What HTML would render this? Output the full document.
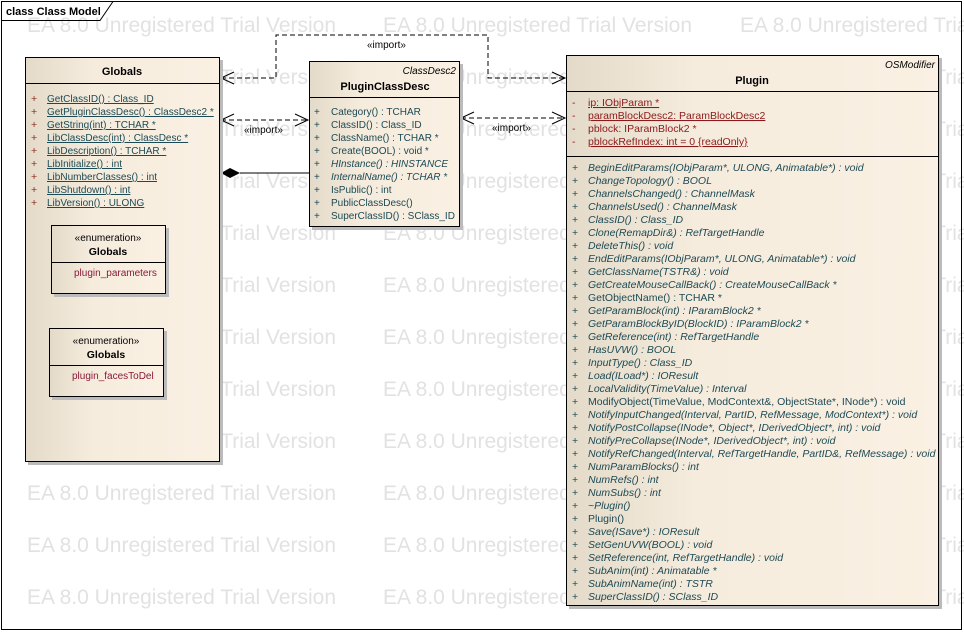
<!DOCTYPE html>
<html><head><meta charset="utf-8"><style>
html,body{margin:0;padding:0;background:#fff;}
svg{display:block;font-family:"Liberation Sans",Arial,sans-serif;}
</style></head><body>
<svg width="964" height="632" viewBox="0 0 964 632" xmlns="http://www.w3.org/2000/svg">
<defs>
<linearGradient id="g" x1="0" x2="1" y1="0" y2="0">
<stop offset="0" stop-color="#e4dac9"/><stop offset="0.35" stop-color="#f6ecdd"/><stop offset="1" stop-color="#faf0e3"/>
</linearGradient>
</defs>
<rect x="0" y="0" width="964" height="632" fill="#fff"/>
<g fill="#e2e2e2" font-size="21">
<text x="27" y="32" textLength="309">EA 8.0 Unregistered Trial Version</text><text x="383" y="32" textLength="309">EA 8.0 Unregistered Trial Version</text><text x="740" y="32" textLength="309">EA 8.0 Unregistered Trial Version</text>
<text x="27" y="84" textLength="309">EA 8.0 Unregistered Trial Version</text><text x="383" y="84" textLength="309">EA 8.0 Unregistered Trial Version</text><text x="740" y="84" textLength="309">EA 8.0 Unregistered Trial Version</text>
<text x="27" y="136" textLength="309">EA 8.0 Unregistered Trial Version</text><text x="383" y="136" textLength="309">EA 8.0 Unregistered Trial Version</text><text x="740" y="136" textLength="309">EA 8.0 Unregistered Trial Version</text>
<text x="27" y="188" textLength="309">EA 8.0 Unregistered Trial Version</text><text x="383" y="188" textLength="309">EA 8.0 Unregistered Trial Version</text><text x="740" y="188" textLength="309">EA 8.0 Unregistered Trial Version</text>
<text x="27" y="240" textLength="309">EA 8.0 Unregistered Trial Version</text><text x="383" y="240" textLength="309">EA 8.0 Unregistered Trial Version</text><text x="740" y="240" textLength="309">EA 8.0 Unregistered Trial Version</text>
<text x="27" y="292" textLength="309">EA 8.0 Unregistered Trial Version</text><text x="383" y="292" textLength="309">EA 8.0 Unregistered Trial Version</text><text x="740" y="292" textLength="309">EA 8.0 Unregistered Trial Version</text>
<text x="27" y="344" textLength="309">EA 8.0 Unregistered Trial Version</text><text x="383" y="344" textLength="309">EA 8.0 Unregistered Trial Version</text><text x="740" y="344" textLength="309">EA 8.0 Unregistered Trial Version</text>
<text x="27" y="396" textLength="309">EA 8.0 Unregistered Trial Version</text><text x="383" y="396" textLength="309">EA 8.0 Unregistered Trial Version</text><text x="740" y="396" textLength="309">EA 8.0 Unregistered Trial Version</text>
<text x="27" y="448" textLength="309">EA 8.0 Unregistered Trial Version</text><text x="383" y="448" textLength="309">EA 8.0 Unregistered Trial Version</text><text x="740" y="448" textLength="309">EA 8.0 Unregistered Trial Version</text>
<text x="27" y="500" textLength="309">EA 8.0 Unregistered Trial Version</text><text x="383" y="500" textLength="309">EA 8.0 Unregistered Trial Version</text><text x="740" y="500" textLength="309">EA 8.0 Unregistered Trial Version</text>
<text x="27" y="552" textLength="309">EA 8.0 Unregistered Trial Version</text><text x="383" y="552" textLength="309">EA 8.0 Unregistered Trial Version</text><text x="740" y="552" textLength="309">EA 8.0 Unregistered Trial Version</text>
<text x="27" y="604" textLength="309">EA 8.0 Unregistered Trial Version</text><text x="383" y="604" textLength="309">EA 8.0 Unregistered Trial Version</text><text x="740" y="604" textLength="309">EA 8.0 Unregistered Trial Version</text>
</g>
<rect x="1.5" y="1.5" width="960" height="628" fill="none" stroke="#000" stroke-width="1"/>
<path d="M1.5 20.5 H100 L113 1.5" fill="none" stroke="#000"/>
<text x="6" y="15" font-size="11" font-weight="bold">class Class Model</text>

<g stroke="#000" fill="none" stroke-dasharray="5,3">
<path d="M221 78 H276 V35 H488 V78 H565"/>
<path d="M221 120 H308"/>
<path d="M461 118 H565"/>
</g>
<g stroke="#000" fill="none">
<path d="M234 72 L221 78 L234 84"/><path d="M552 72 L565 78 L552 84"/>
<path d="M234 114 L221 120 L234 126"/><path d="M295 114 L308 120 L295 126"/>
<path d="M474 112 L461 118 L474 124"/><path d="M552 112 L565 118 L552 124"/>
<path d="M240 173 H309"/>
</g>
<path d="M221 173 L230 168 L240 173 L230 178 Z" fill="#000"/>
<g font-size="10" fill="#000">
<text x="367" y="48">«import»</text>
<text x="244" y="133">«import»</text>
<text x="492" y="131">«import»</text>
</g>

<rect x="28" y="60" width="195" height="405" fill="#bbb"/>
<rect x="25.5" y="57.5" width="194" height="404" fill="url(#g)" stroke="#000"/>
<line x1="25.5" y1="83.5" x2="219.5" y2="83.5" stroke="#000"/>
<text x="122" y="75" font-size="11" font-weight="bold" text-anchor="middle">Globals</text>
<g font-size="10" fill="#1c4a55" text-decoration="underline">
<text x="47" y="102">GetClassID() : Class_ID</text>
<text x="47" y="115">GetPluginClassDesc() : ClassDesc2 *</text>
<text x="47" y="128">GetString(int) : TCHAR *</text>
<text x="47" y="141">LibClassDesc(int) : ClassDesc *</text>
<text x="47" y="154">LibDescription() : TCHAR *</text>
<text x="47" y="167">LibInitialize() : int</text>
<text x="47" y="180">LibNumberClasses() : int</text>
<text x="47" y="193">LibShutdown() : int</text>
<text x="47" y="206">LibVersion() : ULONG</text>
</g>
<g font-size="10.5" fill="#8b2a1a">
<text x="31" y="102">+</text><text x="31" y="115">+</text><text x="31" y="128">+</text><text x="31" y="141">+</text><text x="31" y="154">+</text><text x="31" y="167">+</text><text x="31" y="180">+</text><text x="31" y="193">+</text><text x="31" y="206">+</text>
</g>
<rect x="54" y="228" width="115" height="69" fill="#bbb"/>
<rect x="51.5" y="225.5" width="114" height="68" fill="url(#g)" stroke="#000"/>
<line x1="51.5" y1="262.5" x2="165.5" y2="262.5" stroke="#000"/>
<text x="108" y="241" font-size="10" text-anchor="middle">«enumeration»</text>
<text x="108" y="255" font-size="10.5" font-weight="bold" text-anchor="middle">Globals</text>
<text x="74" y="276" font-size="10" fill="#8b1a3a">plugin_parameters</text>
<rect x="52" y="331" width="115" height="69" fill="#bbb"/>
<rect x="49.5" y="328.5" width="114" height="68" fill="url(#g)" stroke="#000"/>
<line x1="49.5" y1="365.5" x2="163.5" y2="365.5" stroke="#000"/>
<text x="106" y="344" font-size="10" text-anchor="middle">«enumeration»</text>
<text x="106" y="358" font-size="10.5" font-weight="bold" text-anchor="middle">Globals</text>
<text x="72" y="379" font-size="10" fill="#8b1a3a">plugin_facesToDel</text>

<rect x="312" y="64" width="151" height="166" fill="#bbb"/>
<rect x="309.5" y="61.5" width="150" height="165" fill="url(#g)" stroke="#000"/>
<line x1="309.5" y1="97.5" x2="459.5" y2="97.5" stroke="#000"/>
<text x="456" y="74" font-size="10" font-style="italic" text-anchor="end">ClassDesc2</text>
<text x="385" y="90" font-size="11" font-weight="bold" text-anchor="middle">PluginClassDesc</text>
<g font-size="10" fill="#1c4a55">
<text x="314" y="115">+</text><text x="314" y="128">+</text><text x="314" y="141">+</text><text x="314" y="154">+</text><text x="314" y="167">+</text><text x="314" y="180">+</text><text x="314" y="193">+</text><text x="314" y="206">+</text><text x="314" y="219">+</text>
<text x="331" y="115">Category() : TCHAR</text>
<text x="331" y="128">ClassID() : Class_ID</text>
<text x="331" y="141">ClassName() : TCHAR *</text>
<text x="331" y="154">Create(BOOL) : void *</text>
<text x="331" y="167" font-style="italic">HInstance() : HINSTANCE</text>
<text x="331" y="180" font-style="italic">InternalName() : TCHAR *</text>
<text x="331" y="193">IsPublic() : int</text>
<text x="331" y="206">PublicClassDesc()</text>
<text x="331" y="219">SuperClassID() : SClass_ID</text>
</g>

<rect x="569" y="58" width="373" height="551" fill="#bbb"/>
<rect x="566.5" y="55.5" width="372" height="550" fill="url(#g)" stroke="#000"/>
<line x1="566.5" y1="91.5" x2="938.5" y2="91.5" stroke="#000"/>
<line x1="566.5" y1="156.5" x2="938.5" y2="156.5" stroke="#000"/>
<text x="935" y="68" font-size="10" font-style="italic" text-anchor="end">OSModifier</text>
<text x="752" y="84" font-size="11" font-weight="bold" text-anchor="middle">Plugin</text>
<g font-size="10.5" fill="#8b1a1a" xml:space="preserve" style="white-space:pre">
<text x="572" y="106">-</text><text x="572" y="119">-</text><text x="572" y="132">-</text><text x="572" y="145">-</text>
<text x="588" y="106" text-decoration="underline">ip:  IObjParam *</text>
<text x="588" y="119" text-decoration="underline">paramBlockDesc2:  ParamBlockDesc2</text>
<text x="588" y="132">pblock:  IParamBlock2 *</text>
<text x="588" y="145" text-decoration="underline">pblockRefIndex:  int = 0 {readOnly}</text>
</g>
<g font-size="10.5" fill="#1c4a55" font-style="italic">
<text x="588" y="171">BeginEditParams(IObjParam*, ULONG, Animatable*) : void</text>
<text x="588" y="184">ChangeTopology() : BOOL</text>
<text x="588" y="197">ChannelsChanged() : ChannelMask</text>
<text x="588" y="210">ChannelsUsed() : ChannelMask</text>
<text x="588" y="223">ClassID() : Class_ID</text>
<text x="588" y="236">Clone(RemapDir&amp;) : RefTargetHandle</text>
<text x="588" y="249">DeleteThis() : void</text>
<text x="588" y="262">EndEditParams(IObjParam*, ULONG, Animatable*) : void</text>
<text x="588" y="275">GetClassName(TSTR&amp;) : void</text>
<text x="588" y="288">GetCreateMouseCallBack() : CreateMouseCallBack *</text>
<text x="588" y="301" font-style="normal">GetObjectName() : TCHAR *</text>
<text x="588" y="314">GetParamBlock(int) : IParamBlock2 *</text>
<text x="588" y="327">GetParamBlockByID(BlockID) : IParamBlock2 *</text>
<text x="588" y="340">GetReference(int) : RefTargetHandle</text>
<text x="588" y="353">HasUVW() : BOOL</text>
<text x="588" y="366">InputType() : Class_ID</text>
<text x="588" y="379">Load(ILoad*) : IOResult</text>
<text x="588" y="392">LocalValidity(TimeValue) : Interval</text>
<text x="588" y="405" font-style="normal">ModifyObject(TimeValue, ModContext&amp;, ObjectState*, INode*) : void</text>
<text x="588" y="418">NotifyInputChanged(Interval, PartID, RefMessage, ModContext*) : void</text>
<text x="588" y="431">NotifyPostCollapse(INode*, Object*, IDerivedObject*, int) : void</text>
<text x="588" y="444">NotifyPreCollapse(INode*, IDerivedObject*, int) : void</text>
<text x="588" y="457">NotifyRefChanged(Interval, RefTargetHandle, PartID&amp;, RefMessage) : void</text>
<text x="588" y="470">NumParamBlocks() : int</text>
<text x="588" y="483">NumRefs() : int</text>
<text x="588" y="496">NumSubs() : int</text>
<text x="588" y="509">~Plugin()</text>
<text x="588" y="522" font-style="normal">Plugin()</text>
<text x="588" y="535">Save(ISave*) : IOResult</text>
<text x="588" y="548">SetGenUVW(BOOL) : void</text>
<text x="588" y="561">SetReference(int, RefTargetHandle) : void</text>
<text x="588" y="574">SubAnim(int) : Animatable *</text>
<text x="588" y="587">SubAnimName(int) : TSTR</text>
<text x="588" y="600">SuperClassID() : SClass_ID</text>
</g>
<g font-size="10.5" fill="#1c4a55">
<text x="572" y="171">+</text><text x="572" y="184">+</text><text x="572" y="197">+</text><text x="572" y="210">+</text><text x="572" y="223">+</text><text x="572" y="236">+</text><text x="572" y="249">+</text><text x="572" y="262">+</text><text x="572" y="275">+</text><text x="572" y="288">+</text><text x="572" y="301">+</text><text x="572" y="314">+</text><text x="572" y="327">+</text><text x="572" y="340">+</text><text x="572" y="353">+</text><text x="572" y="366">+</text><text x="572" y="379">+</text><text x="572" y="392">+</text><text x="572" y="405">+</text><text x="572" y="418">+</text><text x="572" y="431">+</text><text x="572" y="444">+</text><text x="572" y="457">+</text><text x="572" y="470">+</text><text x="572" y="483">+</text><text x="572" y="496">+</text><text x="572" y="509">+</text><text x="572" y="522">+</text><text x="572" y="535">+</text><text x="572" y="548">+</text><text x="572" y="561">+</text><text x="572" y="574">+</text><text x="572" y="587">+</text><text x="572" y="600">+</text>
</g>
</svg>
</body></html>
